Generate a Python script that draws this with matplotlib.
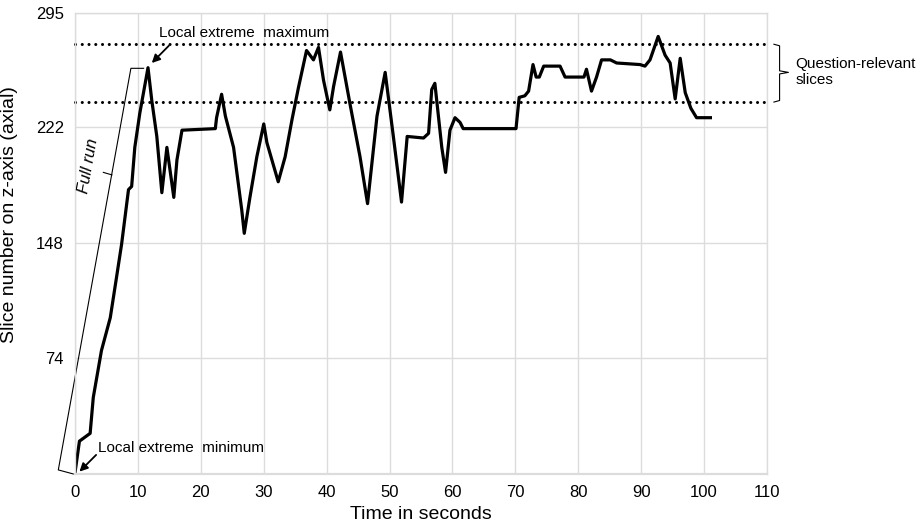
import matplotlib
matplotlib.use("Agg")
import matplotlib.pyplot as plt

plt.rcParams['font.family'] = ['Liberation Sans', 'DejaVu Sans']

# slice position over time
time_s = [0, 0.7, 2.4, 2.9, 4.2, 5.6, 6.6, 7.4, 8.5, 9.0, 9.5, 10.3, 11.6, 12.2,
          13.0, 13.8, 14.6, 15.7, 16.2, 17.0, 22.3, 22.5, 23.3, 23.9, 25.2, 26.5,
          26.9, 27.8, 28.9, 30.0, 30.5, 32.3, 33.4, 34.5, 35.5, 36.8, 37.9, 38.7,
          39.5, 40.5, 41.1, 42.2, 43.7, 45.3, 46.5, 48.0, 49.3, 50.6, 51.9, 52.8,
          55.4, 56.2, 56.7, 57.2, 58.3, 58.9, 59.6, 60.4, 61.2, 61.7, 70.1, 70.6,
          71.5, 72.1, 72.8, 73.3, 73.8, 74.5, 77.1, 77.9, 80.9, 81.3, 82.1, 82.9,
          83.7, 85.1, 86.1, 89.8, 90.6, 91.4, 92.7, 93.8, 94.6, 95.4, 96.2, 97.0,
          97.9, 98.8, 101.0]
slice_z = [1, 21, 26, 49, 79, 100, 126, 147, 182, 184, 209, 231, 260, 239,
           216, 180, 209, 177, 201, 220, 221, 228, 243, 229, 209, 169,
           154, 177, 203, 224, 212, 187, 203, 227, 247, 271, 265, 273,
           252, 233, 248, 270, 237, 203, 173, 229, 257, 216, 174, 216,
           215, 218, 246, 250, 209, 193, 220, 228, 225, 221, 221, 241,
           242, 245, 262, 254, 254, 261, 261, 254, 254, 259, 245, 254,
           265, 265, 263, 262, 261, 265, 280, 268, 263, 240, 266, 244,
           234, 228, 228]

relevant_lo = 238
relevant_hi = 275

x_ticks = list(range(0, 111, 10))
y_ticks = [74, 148, 222, 295]

fig = plt.figure(figsize=(9.23, 5.26), dpi=100)
ax = fig.add_axes([0.0813, 0.0989, 0.7497, 0.8764])

ax.set_xlim(0, 110)
ax.set_ylim(0, 295)
ax.set_xticks(x_ticks)
ax.set_yticks(y_ticks)
ax.grid(True, color='#dcdcdc', lw=1)
ax.set_axisbelow(True)
for s in ax.spines.values():
    s.set_color('#dcdcdc')
    s.set_linewidth(1)
ax.spines['bottom'].set_linewidth(1.6)
ax.tick_params(length=0, labelsize=12, pad=8)

ax.set_xlabel('Time in seconds', fontsize=14, labelpad=4)
ax.set_ylabel('Slice number on z-axis (axial)', fontsize=14)
ax.yaxis.set_label_coords(-0.082, 0.562)

# question-relevant band
dot = (0, (0.01, 2.2))
for yv in (relevant_lo, relevant_hi):
    ax.plot([0, 110], [yv, yv], color='black', lw=2.2, ls=dot,
            dash_capstyle='round', clip_on=False)

ax.plot(time_s, slice_z, color='black', lw=2.3, solid_joinstyle='round')

# annotations
ax.text(13.4, 282, 'Local extreme  maximum', fontsize=11, va='center', ha='left')
ax.annotate('', xy=(12.2, 263), xytext=(14.9, 274),
            arrowprops=dict(arrowstyle='-|>', color='black', lw=1.3,
                            mutation_scale=12, shrinkA=0, shrinkB=0))
ax.text(3.7, 16.6, 'Local extreme  minimum', fontsize=11, va='center', ha='left')
ax.annotate('', xy=(0.7, 1.5), xytext=(3.35, 12.2),
            arrowprops=dict(arrowstyle='-|>', color='black', lw=1.3,
                            mutation_scale=12, shrinkA=0, shrinkB=0),
            annotation_clip=False)

# "Full run" bracket
ax.plot([-0.27, -2.66, 8.88, 10.9], [0, 2.6, 259.6, 259.6], color='black',
        lw=0.8, clip_on=False)
ax.plot([4.5, 5.85], [193, 191.4], color='black', lw=0.8, clip_on=False)
ax.text(2.1, 197, 'Full run', rotation=80, style='italic', fontsize=12,
        ha='center', va='center')

# right brace
ax.plot([111.1, 112.0, 112.0, 113.4, 112.0, 112.0, 111.1],
        [275, 274, 258, 257, 256, 239, 238], color='black', lw=0.8,
        clip_on=False)
ax.text(114.5, 257, 'Question-relevant\nslices', fontsize=11, ha='left',
        va='center', linespacing=1.2)

fig.savefig('out.png', dpi=100)
